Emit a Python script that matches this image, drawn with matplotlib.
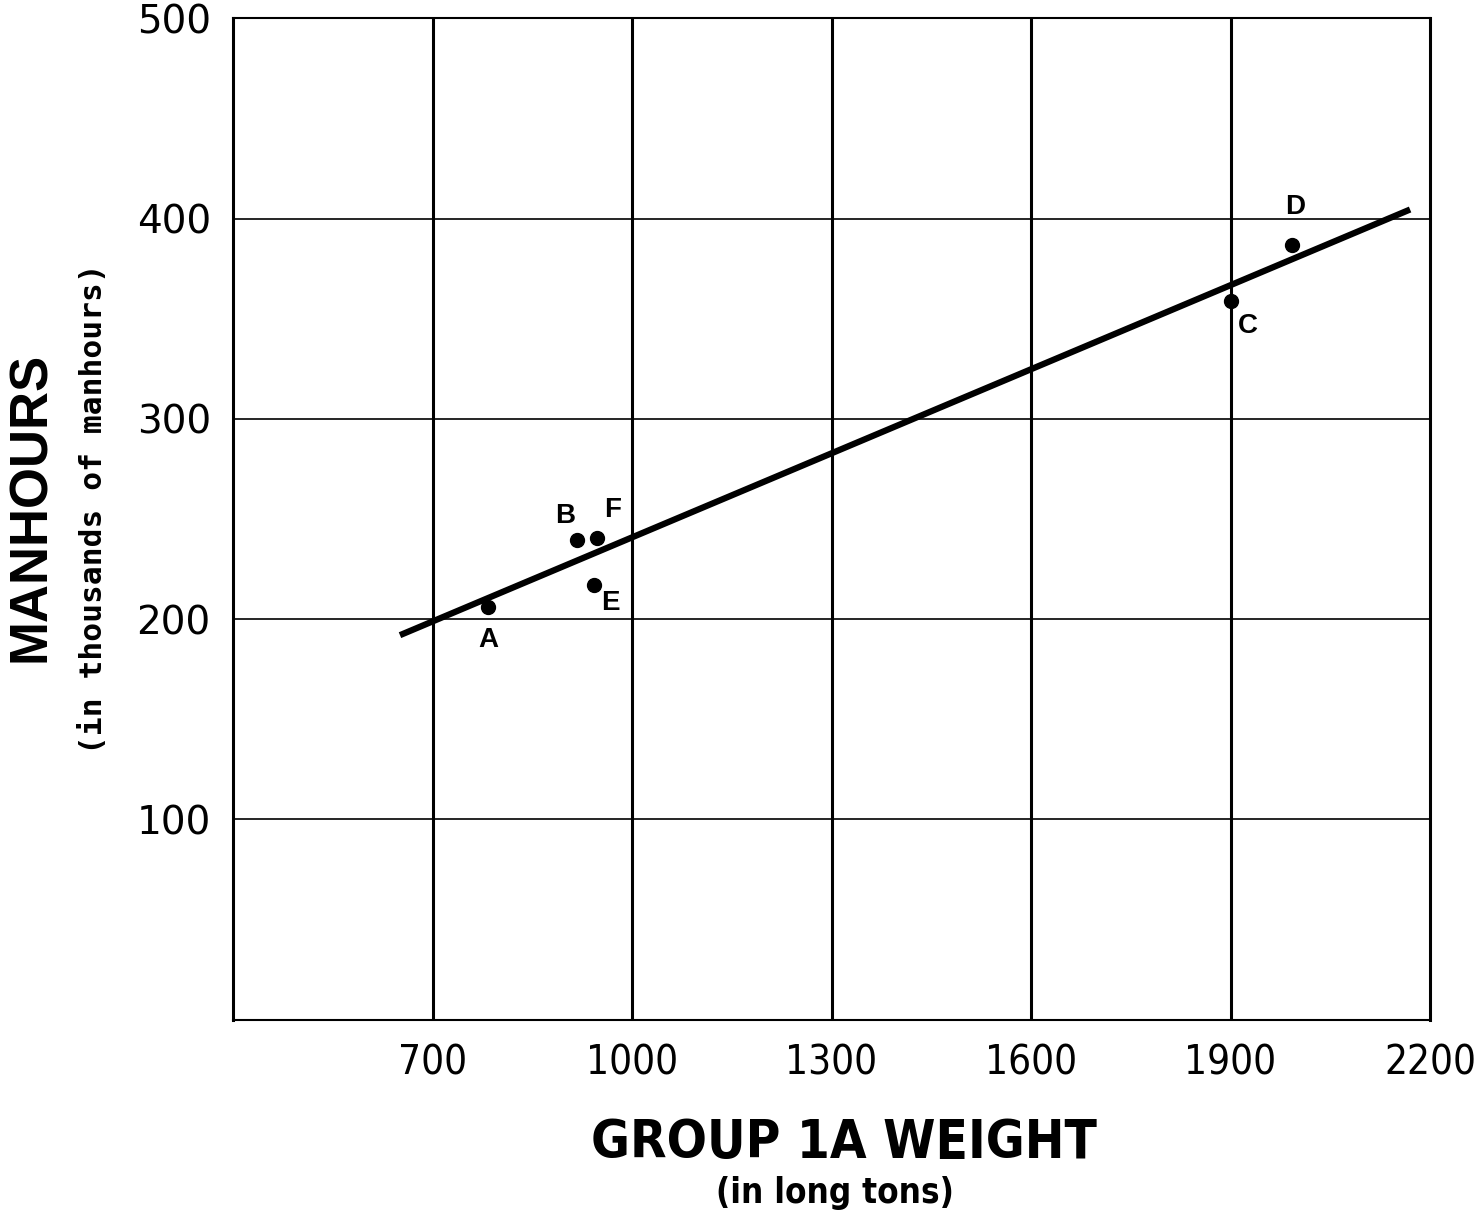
import matplotlib.pyplot as plt
import matplotlib.ticker as ticker

# ship groups: weight (long tons) vs manhours (thousands)
ships = ['A', 'B', 'F', 'E', 'C', 'D']
weight = [783, 917, 947, 943, 1901, 1992]
manhours = [206, 239.5, 240.5, 217, 359, 387]

# fitted trend line end points
trend_x = [651, 2170]
trend_y = [192, 404.5]

x_ticks = [700, 1000, 1300, 1600, 1900, 2200]
y_ticks = [100, 200, 300, 400, 500]

# label offsets from each point, in pixels
label_offsets = {'A': (1, -33), 'B': (-12, 24), 'F': (16, 28), 'E': (16, -18),
                 'C': (17, -25), 'D': (3, 38)}

plt.rcParams['font.family'] = ['DejaVu Sans']

fig = plt.figure(figsize=(14.77, 12.14), dpi=100)
ax = fig.add_axes([0.1578, 0.160, 0.8104, 0.825])

ax.set_xlim(400, 2200)
ax.set_ylim(0, 500)

for x in x_ticks[:-1]:
    ax.axvline(x, color='black', lw=2.2, zorder=1)
for y in y_ticks[:-1]:
    ax.axhline(y, color='black', lw=1.2, zorder=1)

ax.plot(trend_x, trend_y, color='black', lw=4.5, solid_capstyle='butt', zorder=3)
ax.plot(weight, manhours, 'o', color='black', ms=10, zorder=4)

for name, x, y in zip(ships, weight, manhours):
    dx, dy = label_offsets[name]
    ax.annotate(name, (x, y), xytext=(dx, dy), textcoords='offset pixels',
                ha='center', va='center', fontsize=20, fontweight='bold',
                family='Liberation Sans')

ax.xaxis.set_major_locator(ticker.FixedLocator(x_ticks))
ax.yaxis.set_major_locator(ticker.FixedLocator(y_ticks))
ax.tick_params(length=0)
ax.tick_params(axis='x', pad=17)
ax.tick_params(axis='y', pad=16)
for lbl in ax.get_xticklabels():
    lbl.set_fontsize(29)
    lbl.set_fontstretch('condensed')
for lbl in ax.get_yticklabels():
    lbl.set_fontsize(28)

for side in ['left', 'right']:
    ax.spines[side].set_linewidth(2.2)
for side in ['top', 'bottom']:
    ax.spines[side].set_linewidth(1.5)

ax.text(-0.169, 0.512, 'MANHOURS', transform=ax.transAxes, rotation=90,
        ha='center', va='center', fontsize=38, fontweight='bold',
        family='Liberation Sans')
ax.text(-0.117, 0.51, '(in thousands of manhours)', transform=ax.transAxes,
        rotation=90, ha='center', va='center', fontsize=22.5, fontweight='bold',
        family='DejaVu Sans Mono')
ax.text(0.510, -0.123, 'GROUP 1A WEIGHT', transform=ax.transAxes,
        ha='center', va='center', fontsize=38, fontweight='bold',
        fontstretch='condensed')
ax.text(0.503, -0.173, '(in long tons)', transform=ax.transAxes,
        ha='center', va='center', fontsize=25, fontweight='bold',
        fontstretch='condensed')

fig.savefig('out.png', dpi=100)
